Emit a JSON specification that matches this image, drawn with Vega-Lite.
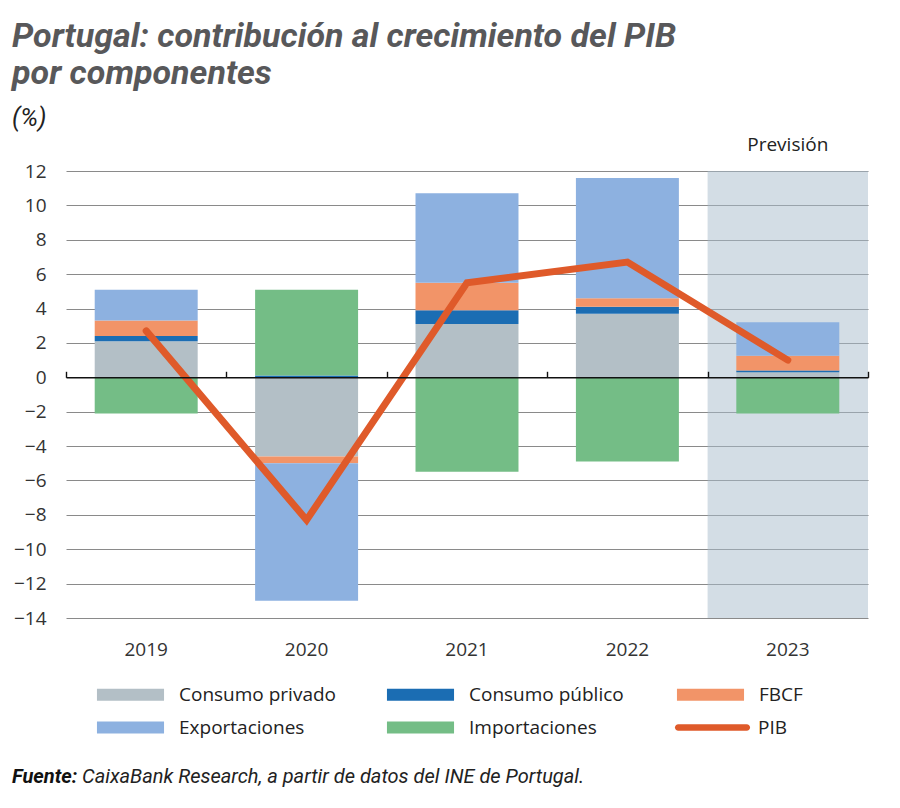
{
  "$schema": "https://vega.github.io/schema/vega-lite/v6.json",
  "background": "white",
  "padding": {"left": 12, "top": 20, "right": 5, "bottom": 5},
  "config": {
    "font": "Open Sans",
    "view": {"stroke": null},
    "axisY": {
      "title": null,
      "domain": false,
      "ticks": false,
      "tickCount": 30,
      "labelPadding": 20,
      "labelFontSize": 19,
      "labelColor": "#333333",
      "labelFont": "Open Sans",
      "labelOverlap": false,
      "gridColor": "#8a8a8a",
      "gridWidth": 1
    }
  },
  "title": {
    "text": ["Portugal: contribución al crecimiento del PIB", "por componentes"],
    "subtitle": "(%)",
    "anchor": "start",
    "frame": "bounds",
    "font": "Roboto",
    "fontSize": 34,
    "fontWeight": "bold",
    "fontStyle": "italic",
    "color": "#58585a",
    "lineHeight": 37,
    "subtitleFont": "Roboto",
    "subtitleFontSize": 25,
    "subtitleFontStyle": "italic",
    "subtitleColor": "#222222",
    "subtitlePadding": 15,
    "offset": 5
  },
  "datasets": {
    "componentes": [
      {"year": "2019", "componente": "Consumo privado", "orden": 1, "valor": 2.1},
      {"year": "2019", "componente": "Consumo público", "orden": 2, "valor": 0.3},
      {"year": "2019", "componente": "FBCF", "orden": 3, "valor": 0.9},
      {"year": "2019", "componente": "Exportaciones", "orden": 4, "valor": 1.8},
      {"year": "2019", "componente": "Importaciones", "orden": 5, "valor": -2.1},
      {"year": "2020", "componente": "Consumo privado", "orden": 1, "valor": -4.6},
      {"year": "2020", "componente": "Consumo público", "orden": 2, "valor": 0.1},
      {"year": "2020", "componente": "FBCF", "orden": 3, "valor": -0.4},
      {"year": "2020", "componente": "Exportaciones", "orden": 4, "valor": -8.0},
      {"year": "2020", "componente": "Importaciones", "orden": 5, "valor": 5.0},
      {"year": "2021", "componente": "Consumo privado", "orden": 1, "valor": 3.1},
      {"year": "2021", "componente": "Consumo público", "orden": 2, "valor": 0.8},
      {"year": "2021", "componente": "FBCF", "orden": 3, "valor": 1.6},
      {"year": "2021", "componente": "Exportaciones", "orden": 4, "valor": 5.2},
      {"year": "2021", "componente": "Importaciones", "orden": 5, "valor": -5.5},
      {"year": "2022", "componente": "Consumo privado", "orden": 1, "valor": 3.7},
      {"year": "2022", "componente": "Consumo público", "orden": 2, "valor": 0.4},
      {"year": "2022", "componente": "FBCF", "orden": 3, "valor": 0.5},
      {"year": "2022", "componente": "Exportaciones", "orden": 4, "valor": 7.0},
      {"year": "2022", "componente": "Importaciones", "orden": 5, "valor": -4.9},
      {"year": "2023", "componente": "Consumo privado", "orden": 1, "valor": 0.3},
      {"year": "2023", "componente": "Consumo público", "orden": 2, "valor": 0.1},
      {"year": "2023", "componente": "FBCF", "orden": 3, "valor": 0.85},
      {"year": "2023", "componente": "Exportaciones", "orden": 4, "valor": 1.95},
      {"year": "2023", "componente": "Importaciones", "orden": 5, "valor": -2.1}
    ],
    "pib": [
      {"year": "2019", "serie": "PIB", "valor": 2.7},
      {"year": "2020", "serie": "PIB", "valor": -8.3},
      {"year": "2021", "serie": "PIB", "valor": 5.5},
      {"year": "2022", "serie": "PIB", "valor": 6.7},
      {"year": "2023", "serie": "PIB", "valor": 1.0}
    ],
    "prevision": [
      {"year": "2023", "etiqueta": "Previsión", "desde": -14, "hasta": 12}
    ]
  },
  "spacing": 108,
  "vconcat": [
    {
      "width": 802,
      "height": 447,
      "layer": [
        {
          "data": {"name": "prevision"},
          "mark": {"type": "bar", "width": {"band": 1}, "color": "#a7bbcb", "opacity": 0.5},
          "encoding": {
            "x": {
              "field": "year",
              "type": "nominal",
              "sort": ["2019", "2020", "2021", "2022", "2023"],
              "scale": {"domain": ["2019", "2020", "2021", "2022", "2023"], "paddingInner": 0, "paddingOuter": 0},
              "axis": {
                "orient": "bottom",
                "title": null,
                "domain": false,
                "ticks": false,
                "labelAngle": 0,
                "labelPadding": 22,
                "labelFontSize": 19,
                "labelColor": "#333333",
                "labelFont": "Open Sans"
              }
            },
            "y": {
              "field": "desde",
              "type": "quantitative",
              "scale": {"domain": [-14, 12], "nice": false, "zero": false},
              "axis": {"values": [-14, -12, -10, -8, -6, -4, -2, 0, 2, 4, 6, 8, 10, 12]}
            },
            "y2": {"field": "hasta"}
          }
        },
        {
          "data": {"name": "componentes"},
          "mark": {"type": "bar", "width": {"band": 0.642}},
          "encoding": {
            "x": {
              "field": "year",
              "type": "nominal",
              "sort": ["2019", "2020", "2021", "2022", "2023"],
              "axis": {
                "orient": "top",
                "title": null,
                "offset": -206.3,
                "zindex": 1,
                "labels": false,
                "grid": false,
                "domain": true,
                "domainColor": "#111111",
                "domainWidth": 1.6,
                "ticks": true,
                "tickBand": "extent",
                "tickSize": 6,
                "tickColor": "#111111",
                "tickWidth": 1.4
              }
            },
            "y": {
              "field": "valor",
              "type": "quantitative",
              "stack": "zero",
              "axis": {"values": [-14, -12, -10, -8, -6, -4, -2, 0, 2, 4, 6, 8, 10, 12]}
            },
            "color": {
              "field": "componente",
              "type": "nominal",
              "scale": {
                "domain": ["Consumo privado", "Consumo público", "FBCF", "Exportaciones", "Importaciones"],
                "range": ["#b3bfc6", "#1b6db3", "#f29468", "#8db1e0", "#74bd86"]
              },
              "legend": {
                "orient": "none",
                "legendX": 55,
                "legendY": 514,
                "title": null,
                "columns": 3,
                "direction": "horizontal",
                "gridAlign": "all",
                "symbolType": "M-5,-0.9H5V0.9H-5Z",
                "symbolSize": 180,
                "symbolStrokeWidth": 0,
                "labelFont": "Open Sans",
                "labelFontSize": 19,
                "labelColor": "#222222",
                "labelOffset": 39,
                "columnPadding": 49,
                "rowPadding": 13,
                "padding": 0
              }
            },
            "order": {"field": "orden", "type": "quantitative"}
          }
        },
        {
          "data": {"name": "pib"},
          "mark": {"type": "line", "strokeWidth": 7, "strokeCap": "round", "strokeJoin": "miter"},
          "encoding": {
            "x": {"field": "year", "type": "nominal", "sort": ["2019", "2020", "2021", "2022", "2023"], "axis": null},
            "y": {"field": "valor", "type": "quantitative"},
            "stroke": {
              "field": "serie",
              "type": "nominal",
              "scale": {"domain": ["PIB"], "range": ["#df5a2a"]},
              "legend": {
                "orient": "none",
                "legendX": 637,
                "legendY": 547,
                "title": null,
                "symbolType": "M-5.1,-0.5H5.1A0.5,0.5 0 0 1 5.1,0.5H-5.1A0.5,0.5 0 0 1 -5.1,-0.5Z",
                "symbolSize": 180,
                "symbolFillColor": "#df5a2a",
                "symbolStrokeWidth": 0,
                "labelFont": "Open Sans",
                "labelFontSize": 19,
                "labelColor": "#222222",
                "labelOffset": 36,
                "padding": 0
              }
            }
          }
        },
        {
          "data": {"name": "prevision"},
          "mark": {"type": "text", "dy": -26, "fontSize": 19, "font": "Open Sans", "color": "#222222", "baseline": "middle"},
          "encoding": {
            "x": {"field": "year", "type": "nominal", "sort": ["2019", "2020", "2021", "2022", "2023"], "axis": null},
            "y": {"datum": 12, "type": "quantitative"},
            "text": {"field": "etiqueta"}
          }
        }
      ],
      "resolve": {"axis": {"x": "independent"}}
    },
    {
      "hconcat": [
        {
          "data": {"values": []},
          "mark": "point",
          "width": 1,
          "height": 1,
          "title": {"text": "Fuente:", "anchor": "start", "dx": -54, "font": "Roboto", "fontSize": 20, "fontWeight": "bold", "fontStyle": "italic", "color": "#111111"}
        },
        {
          "data": {"values": []},
          "mark": "point",
          "width": 1,
          "height": 1,
          "title": {"text": "CaixaBank Research, a partir de datos del INE de Portugal.", "anchor": "start", "dx": -54, "font": "Roboto", "fontSize": 20, "fontWeight": "normal", "fontStyle": "italic", "color": "#222222"}
        }
      ],
      "spacing": 4
    }
  ]
}
